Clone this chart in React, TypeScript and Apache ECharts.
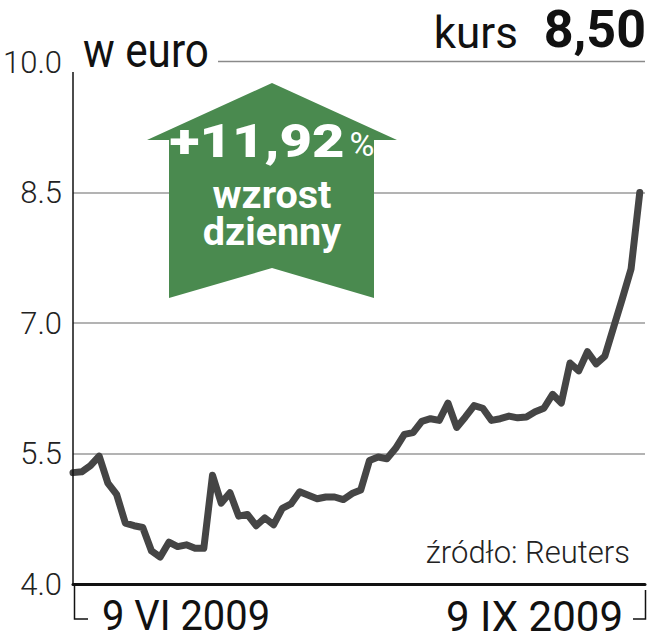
import React, { useEffect, useRef } from "react";
import * as echarts from "echarts";

// Daily closing price (EUR), trading days from 9 VI 2009 to 9 IX 2009
const prices: number[] = [
  5.28, 5.29, 5.36, 5.47, 5.16, 5.03, 4.7, 4.67, 4.65, 4.38,
  4.31, 4.48, 4.43, 4.45, 4.41, 4.41, 5.25, 4.93, 5.05, 4.78,
  4.8, 4.67, 4.76, 4.68, 4.87, 4.92, 5.06, 5.02, 4.98, 5.0,
  5.0, 4.97, 5.04, 5.08, 5.42, 5.46, 5.44, 5.56, 5.72, 5.74,
  5.87, 5.9, 5.88, 6.08, 5.8, 5.92, 6.05, 6.02, 5.88, 5.9,
  5.93, 5.91, 5.92, 5.98, 6.02, 6.18, 6.08, 6.54, 6.45, 6.67,
  6.53, 6.62, 6.95, 7.28, 7.62, 8.5,
];
const dayIdx: number[] = prices.map((_, i) => i);
const yTicks: number[] = [4.0, 5.5, 7.0, 8.5, 10.0];
const dateLabels: string[] = ["9 VI 2009", "9 IX 2009"];
const unitLabel = "w euro";
const kursLabel = "kurs";
const kursValue = "8,50";
const changeValue = "+11,92";
const changeTexts: string[] = ["wzrost", "dzienny"];
const sourceLabel = "źródło: Reuters";

const GREEN = "#4a8a4f";
const FONT = "Roboto, 'Liberation Sans', sans-serif";

export default function App() {
  const ref = useRef<HTMLDivElement>(null);
  useEffect(() => {
    if (!ref.current) return;
    const chart = echarts.init(ref.current, null, { renderer: "svg" });
    const option: any = {
      animation: false,
      backgroundColor: "#ffffff",
      grid: { left: 73, right: 11, top: 62, bottom: 56, containLabel: false },
      xAxis: {
        type: "value",
        min: 0,
        max: 65.6,
        axisLine: { show: true, lineStyle: { color: "#111", width: 3 } },
        axisTick: { show: false },
        axisLabel: { show: false },
        splitLine: { show: false },
      },
      yAxis: {
        type: "value",
        min: yTicks[0],
        max: yTicks[yTicks.length - 1],
        interval: 1.5,
        axisLine: { show: false },
        axisTick: { show: false },
        axisLabel: {
          margin: 11,
          fontSize: 31,
          fontWeight: 300,
          fontFamily: FONT,
          color: "#222",
          formatter: (v: number) => v.toFixed(1),
        },
        splitLine: {
          show: true,
          showMinLine: false,
          showMaxLine: false,
          lineStyle: { color: "#9a9a9a", width: 1.5 },
        },
      },
      series: [
        {
          type: "line",
          data: dayIdx.map((d, i) => [d, prices[i]]),
          symbol: "none",
          lineStyle: { color: "#454545", width: 7, cap: "round", join: "round" },
          z: 5,
        },
      ],
      graphic: [
        // y axis line
        { type: "line", shape: { x1: 73, y1: 72, x2: 73, y2: 584 }, style: { stroke: "#111", lineWidth: 1.5 }, z: 10 },
        // top rule
        { type: "line", shape: { x1: 218, y1: 61.5, x2: 645, y2: 61.5 }, style: { stroke: "#8a8a8a", lineWidth: 1.5 }, z: 10 },
        // brackets
        { type: "polyline", shape: { points: [[74.5, 586], [74.5, 619], [88, 619]] }, style: { stroke: "#111", lineWidth: 1.5, fill: null }, z: 10 },
        { type: "polyline", shape: { points: [[633, 619], [645.5, 619], [645.5, 590]] }, style: { stroke: "#111", lineWidth: 1.5, fill: null }, z: 10 },
        // arrow
        {
          type: "polygon",
          shape: {
            points: [[272, 83], [397, 140], [374, 140], [374, 298], [272, 268], [169, 298], [169, 140], [147, 140]],
          },
          style: { fill: GREEN },
          z: 20,
        },
        {
          type: "text", x: 257, y: 141, scaleX: 1.22, z: 21,
          style: { text: changeValue, fill: "#fff", fontSize: 46, fontWeight: 900, fontFamily: FONT, align: "center", verticalAlign: "middle" },
        },
        {
          type: "text", x: 362, y: 144, z: 21,
          style: { text: "%", fill: "#fff", fontSize: 34, fontWeight: "normal", fontFamily: FONT, align: "center", verticalAlign: "middle" },
        },
        {
          type: "text", x: 272, y: 195, scaleX: 1.04, z: 21,
          style: { text: changeTexts[0], fill: "#fff", fontSize: 38, fontWeight: "bold", fontFamily: FONT, align: "center", verticalAlign: "middle" },
        },
        {
          type: "text", x: 272, y: 232, scaleX: 1.04, z: 21,
          style: { text: changeTexts[1], fill: "#fff", fontSize: 38, fontWeight: "bold", fontFamily: FONT, align: "center", verticalAlign: "middle" },
        },
        // header texts
        {
          type: "text", x: 83, y: 51, scaleX: 0.88, z: 21,
          style: { text: unitLabel, fill: "#111", fontSize: 48, fontFamily: FONT, align: "left", verticalAlign: "middle" },
        },
        {
          type: "text", x: 518, y: 33, z: 21,
          style: { text: kursLabel, fill: "#111", fontSize: 44, fontFamily: FONT, align: "right", verticalAlign: "middle" },
        },
        {
          type: "text", x: 646, y: 29, z: 21,
          style: { text: kursValue, fill: "#111", fontSize: 52, fontWeight: "bold", fontFamily: FONT, align: "right", verticalAlign: "middle" },
        },
        // date labels
        {
          type: "text", x: 186, y: 616, scaleX: 0.95, z: 21,
          style: { text: dateLabels[0], fill: "#111", fontSize: 42, fontFamily: FONT, align: "center", verticalAlign: "middle" },
        },
        {
          type: "text", x: 623, y: 616, z: 21,
          style: { text: dateLabels[1], fill: "#111", fontSize: 42, fontFamily: FONT, align: "right", verticalAlign: "middle" },
        },
        // source
        {
          type: "text", x: 630, y: 552, z: 21,
          style: { text: sourceLabel, fill: "#222", fontSize: 31, fontWeight: 300, fontFamily: FONT, align: "right", verticalAlign: "middle" },
        },
      ],
    };
    chart.setOption(option);
    return () => chart.dispose();
  }, []);
  return <div ref={ref} style={{ width: 656, height: 640, position: "absolute", left: 0, top: 0 }} />;
}
